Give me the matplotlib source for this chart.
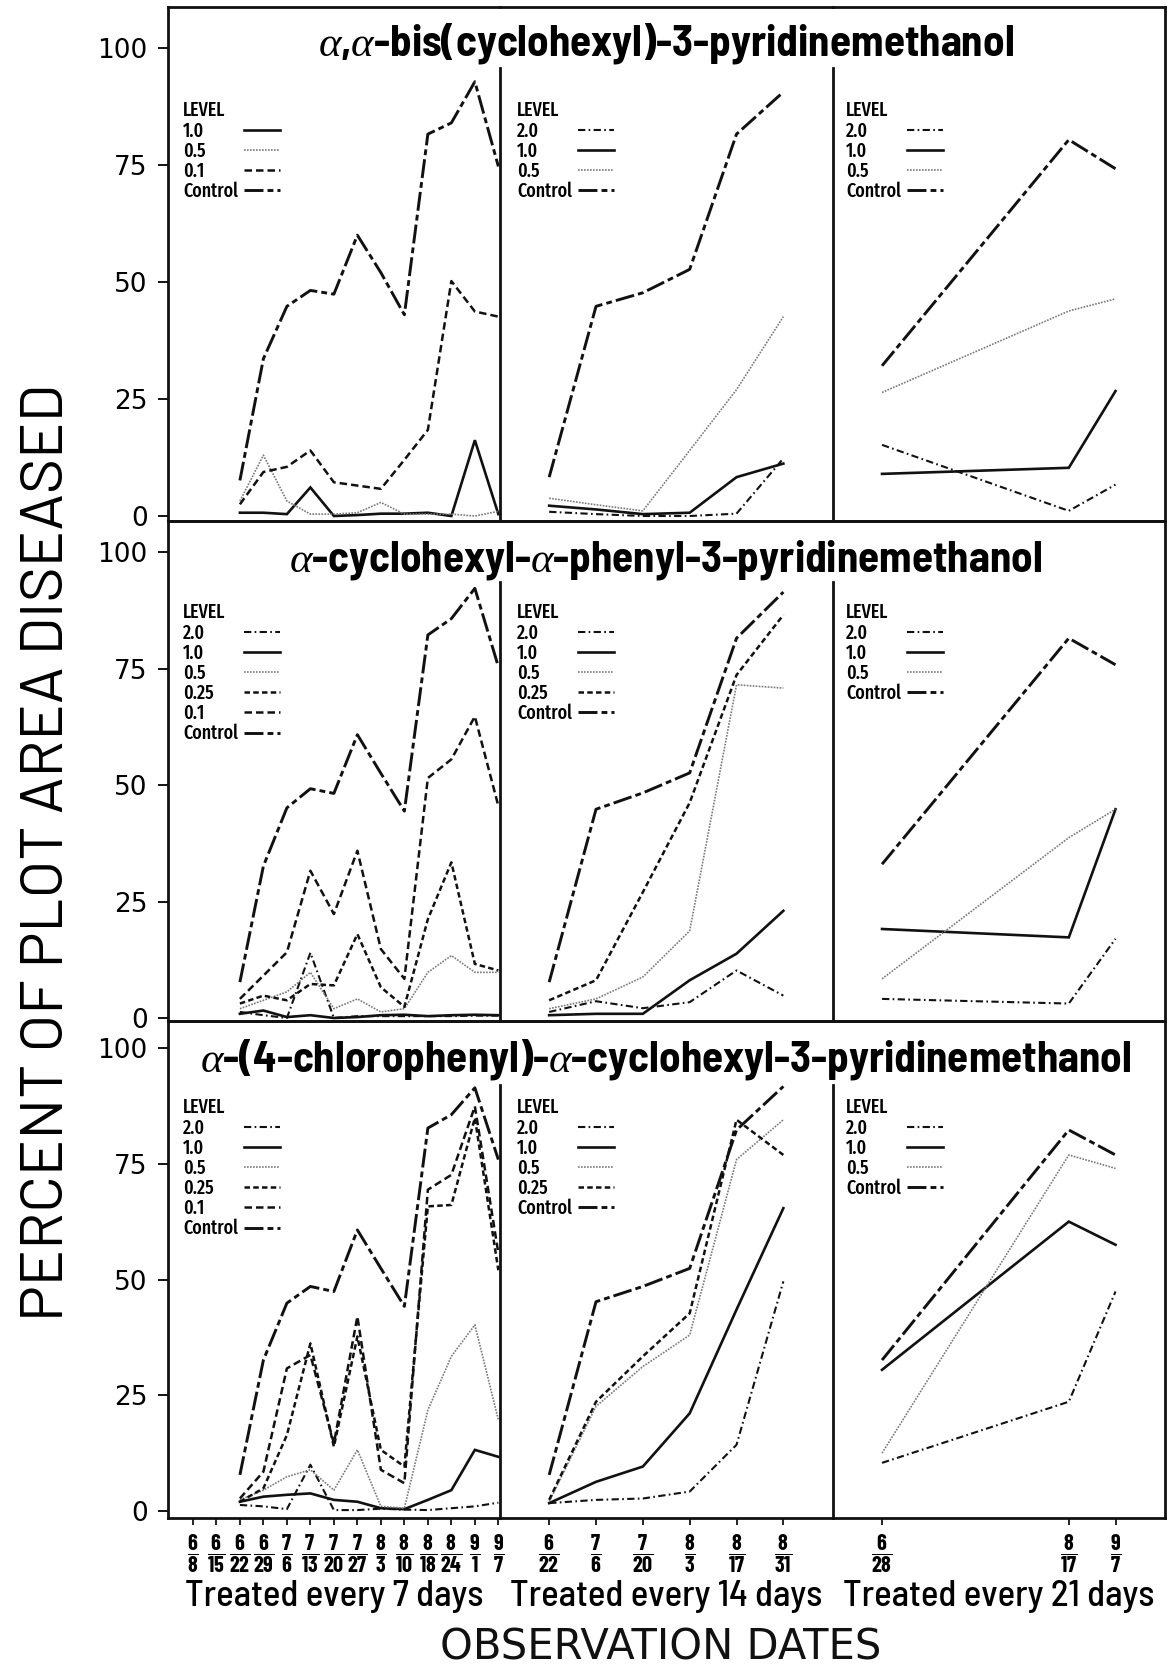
import matplotlib
matplotlib.use('Agg')
import matplotlib.pyplot as plt
import numpy as np
from matplotlib.font_manager import FontProperties

NARROW = ['Barlow Condensed', 'Fira Sans Condensed', 'Archivo Narrow', 'DejaVu Sans']
SEMI = ['Barlow Semi Condensed', 'Barlow Condensed', 'DejaVu Sans']
XNARROW = ['Fira Sans Extra Condensed', 'Barlow Condensed', 'DejaVu Sans']
plt.rcParams['mathtext.fontset'] = 'custom'
plt.rcParams['mathtext.rm'] = 'Barlow Condensed:bold'
plt.rcParams['mathtext.it'] = 'Liberation Serif:italic'

# ---------------- data ----------------
dates7 = ['6/8', '6/15', '6/22', '6/29', '7/6', '7/13', '7/20', '7/27',
          '8/3', '8/10', '8/18', '8/24', '9/1', '9/7']
dates14 = ['6/22', '7/6', '7/20', '8/3', '8/17', '8/31']
dates21 = ['6/28', '8/17', '9/7']

titles = [r'$\alpha$,$\alpha$-bis(cyclohexyl)-3-pyridinemethanol',
          r'$\alpha$-cyclohexyl-$\alpha$-phenyl-3-pyridinemethanol',
          r'$\alpha$-(4-chlorophenyl)-$\alpha$-cyclohexyl-3-pyridinemethanol']

schedules = ['Treated every 7 days', 'Treated every 14 days', 'Treated every 21 days']

# alpha,alpha-bis(cyclohexyl)
bis_7 = {
    '1.0': [None, None, 0.7, 0.7, 0.4, 6.1, 0.0, 0.2, 0.5, 0.5, 0.7, 0.0, 16.2, 0.4],
    '0.5': [None, None, 3.2, 13.0, 3.2, 0.4, 0.4, 0.7, 2.9, 0.4, 0.4, 0.4, 0.0, 1.0],
    '0.1': [None, None, 2.5, 9.4, 10.5, 14.0, 7.2, 6.5, 5.8, 12.0, 18.4, 50.2, 43.7, 42.6],
    'Control': [None, None, 7.6, 33.6, 44.8, 48.2, 47.4, 60.0, 52.0, 43.0, 81.6, 84.0, 92.8, 74.7],
}
bis_14 = {
    '2.0': [0.9, 0.4, 0.0, 0.0, 0.5, 12.3],
    '1.0': [2.2, 1.4, 0.4, 0.7, 8.3, 11.2],
    '0.5': [3.8, 2.4, 1.1, 14.0, 27.0, 42.6],
    'Control': [8.3, 44.8, 47.7, 52.7, 81.6, 90.6],
}
bis_21 = {
    '2.0': [15.2, 1.1, 6.7],
    '1.0': [9.0, 10.3, 26.7],
    '0.5': [26.4, 43.8, 46.4],
    'Control': [32.1, 80.4, 74.2],
}

# alpha-cyclohexyl-alpha-phenyl
phe_7 = {
    '2.0': [None, None, 1.3, 0.6, 0.0, 14.0, 0.0, 0.4, 0.4, 0.4, 0.4, 0.4, 0.5, 0.5],
    '1.0': [None, None, 0.9, 1.6, 0.2, 0.6, 0.0, 0.2, 0.6, 0.7, 0.4, 0.6, 0.7, 0.6],
    '0.5': [None, None, 2.0, 3.8, 5.6, 9.8, 2.0, 4.1, 1.3, 2.0, 9.8, 13.4, 9.8, 9.8],
    '0.25': [None, None, 3.1, 4.8, 3.8, 7.3, 7.0, 18.0, 6.6, 2.4, 21.2, 33.4, 11.6, 10.2],
    '0.1': [None, None, 4.1, 9.1, 14.1, 31.6, 22.3, 35.9, 14.8, 8.4, 51.5, 55.5, 64.7, 45.5],
    'Control': [None, None, 7.7, 32.6, 45.1, 49.2, 48.2, 60.8, 52.5, 44.4, 82.2, 85.7, 92.2, 75.4],
}
phe_14 = {
    '2.0': [1.3, 3.6, 2.1, 3.4, 10.2, 4.8],
    '1.0': [0.6, 0.9, 0.9, 8.1, 13.8, 23.0],
    '0.5': [2.0, 4.1, 8.8, 18.7, 71.5, 70.8],
    '0.25': [3.8, 8.1, 27.0, 46.2, 73.6, 86.5],
    'Control': [7.7, 44.8, 48.3, 52.6, 81.5, 91.4],
}
phe_21 = {
    '2.0': [4.1, 3.1, 17.0],
    '1.0': [19.1, 17.3, 44.8],
    '0.5': [8.4, 38.7, 44.8],
    'Control': [33.0, 81.5, 75.8],
}

# alpha-(4-chlorophenyl)-alpha-cyclohexyl
chl_7 = {
    '2.0': [None, None, 1.3, 1.0, 0.4, 10.0, 0.2, 0.2, 0.5, 0.3, 0.2, 0.6, 1.0, 1.8],
    '1.0': [None, None, 2.0, 3.1, 3.5, 3.8, 2.4, 2.0, 0.6, 0.4, 2.4, 4.5, 13.2, 11.7],
    '0.5': [None, None, 2.4, 4.5, 7.4, 8.9, 4.5, 13.2, 1.0, 0.6, 21.8, 33.4, 40.2, 19.7],
    '0.25': [None, None, 2.0, 4.9, 16.4, 36.2, 13.9, 37.7, 13.2, 9.6, 65.8, 66.1, 84.9, 52.0],
    '0.1': [None, None, 2.7, 8.5, 30.8, 33.7, 14.6, 42.0, 8.9, 6.0, 69.4, 72.6, 87.4, 55.7],
    'Control': [None, None, 7.8, 32.6, 44.9, 48.5, 47.4, 60.7, 52.4, 44.2, 82.7, 85.6, 91.4, 75.9],
}
chl_14 = {
    '2.0': [1.7, 2.4, 2.7, 4.2, 14.3, 49.6],
    '1.0': [1.7, 6.3, 9.6, 21.1, 43.5, 65.4],
    '0.5': [2.0, 22.6, 31.2, 38.0, 75.9, 84.5],
    '0.25': [2.4, 23.6, 33.4, 42.7, 84.5, 76.9],
    'Control': [7.8, 45.2, 48.5, 52.4, 82.3, 91.7],
}
chl_21 = {
    '2.0': [10.4, 23.6, 47.4],
    '1.0': [30.5, 62.5, 57.5],
    '0.5': [12.5, 76.9, 74.0],
    'Control': [32.6, 82.3, 76.9],
}

panels = [[bis_7, bis_14, bis_21], [phe_7, phe_14, phe_21], [chl_7, chl_14, chl_21]]

# ---------------- styles / layout ----------------
styles = {
    'Control': dict(color='#111111', lw=2.1, dashes=(6.5, 1.4, 2, 1.4)),
    '2.0': dict(color='#111111', lw=1.5, dashes=(3.5, 1.6, 0.8, 1.6)),
    '1.0': dict(color='#111111', lw=1.9, linestyle='-'),
    '0.5': dict(color='#7a7a7a', lw=1.2, dashes=(1, 0.8)),
    '0.25': dict(color='#111111', lw=1.8, dashes=(2.2, 1.3)),
    '0.1': dict(color='#111111', lw=1.8, dashes=(3, 1.6)),
}

W, H = 1170, 1667
fig = plt.figure(figsize=(W / 100, H / 100), dpi=100)

col_edges = [168, 500, 833, 1165]
# slot positions of the observation dates inside each column
col_pos = [np.arange(len(dates7)), np.arange(len(dates14)), np.array([0, 4, 5])]
col_xlim = [(-1.06, 13.07), (-1.05, 6.06), (-1.05, 6.06)]
col_dates = [dates7, dates14, dates21]
# box top, box bottom, pixel of 100, pixel of 0, separator start, title baseline, legend top
rows = [(7, 521, 48, 516, 68, 56, 101),
        (521, 1021, 552, 1018, 582, 571, 603),
        (1021, 1518, 1048, 1511, 1085, 1071, 1098)]
legend_left = [183, 517, 846]

legend_font = FontProperties(family=XNARROW, weight='medium', size=14)


def add_level_legend(ax, handles, labels, anchor):
    leg = ax.legend(handles, labels, title='LEVEL', loc='upper left', bbox_to_anchor=anchor,
                    markerfirst=False, frameon=False, prop=legend_font,
                    title_fontproperties=legend_font, alignment='left',
                    handlelength=1.85, handletextpad=0.3, labelspacing=0.03,
                    borderpad=0, borderaxespad=0)
    # keep labels flush left while the line keys stay in one column
    renderer = fig.canvas.get_renderer()
    widths = [t.get_window_extent(renderer).width for t in leg.get_texts()]
    column = leg._legend_handle_box.get_children()[0]
    column.align = 'left'
    for row, w in zip(column.get_children(), widths):
        row.sep += (max(widths) - w) * 72 / fig.dpi
    return leg


for r, (top, bot, p100, p0, sep_top, title_base, leg_top) in enumerate(rows):
    ppu = (p0 - p100) / 100.0
    ymin = -(bot - p0) / ppu
    ymax = 100 + (p100 - top) / ppu
    sep_y = 100 + (p100 - sep_top) / ppu
    for c in range(3):
        x0, x1 = col_edges[c], col_edges[c + 1]
        ax = fig.add_axes([x0 / W, 1 - bot / H, (x1 - x0) / W, (bot - top) / H])
        ax.set_facecolor('none')
        ax.set_xlim(*col_xlim[c])
        ax.set_ylim(ymin, ymax)
        for s in ax.spines.values():
            s.set_linewidth(2.0)
            s.set_color('#111111')
        ax.spines['left'].set_visible(c == 0)
        if c < 2:
            ax.spines['right'].set_bounds(ymin, sep_y)
        data = panels[r][c]
        handles = []
        for level, vals in data.items():
            y = np.array([np.nan if v is None else v for v in vals], dtype=float)
            ln, = ax.plot(col_pos[c], y, solid_joinstyle='miter', **styles[level])
            handles.append(ln)
        anchor = ((legend_left[c] - x0) / (x1 - x0), (bot - leg_top) / (bot - top))
        add_level_legend(ax, handles, list(data.keys()), anchor)

        if c == 0:
            ax.set_yticks([0, 25, 50, 75, 100])
            ax.tick_params(axis='y', direction='out', length=7.5, width=1.4,
                           labelsize=19, pad=7, color='#111111')
        else:
            ax.set_yticks([])
        if r == 2:
            ax.set_xticks(col_pos[c])
            labs = []
            for d in col_dates[c]:
                m, dd = d.split('/')
                labs.append(r'$\dfrac{%s}{%s}$' % (m, dd))
            ax.set_xticklabels(labs, fontsize=16)
            ax.tick_params(axis='x', direction='out', length=5, width=1.2, pad=5)
            fig.text((x0 + x1) / 2 / W, 1 - 1606 / H, schedules[c], ha='center',
                     va='baseline', fontfamily=SEMI, fontweight='medium', fontsize=26.5)
        else:
            ax.set_xticks([])

    fig.text(666 / W, 1 - title_base / H, titles[r], ha='center', va='baseline',
             fontfamily=SEMI, fontweight='bold', fontsize=31)

fig.text(48 / W, 1 - 853 / H, 'PERCENT OF PLOT AREA DISEASED', rotation=90,
         ha='center', va='center', fontfamily=['Barlow', 'DejaVu Sans'], fontsize=43.5)
fig.text(661 / W, 1 - 1659 / H, 'OBSERVATION DATES', ha='center', va='baseline',
         fontsize=30, color='#111111')

fig.savefig('out.png', dpi=100, facecolor='white')
